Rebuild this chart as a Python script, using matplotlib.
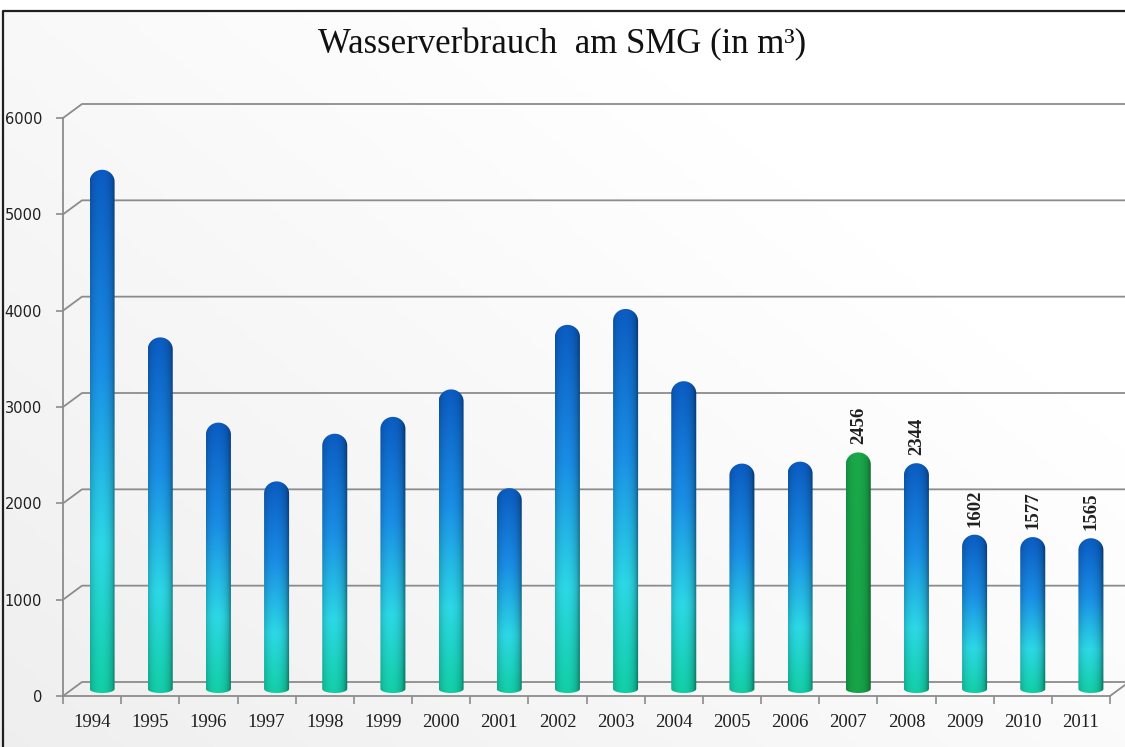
import numpy as np
import matplotlib.pyplot as plt
from matplotlib.path import Path
from matplotlib.patches import PathPatch, Rectangle
from matplotlib.colors import LinearSegmentedColormap

years = ['1994', '1995', '1996', '1997', '1998', '1999', '2000', '2001', '2002',
         '2003', '2004', '2005', '2006', '2007', '2008', '2009', '2010', '2011']
verbrauch = [5390, 3650, 2765, 2155, 2650, 2825, 3110, 2085, 3780,
             3945, 3195, 2340, 2360, 2456, 2344, 1602, 1577, 1565]
labelled = ['2007', '2008', '2009', '2010', '2011']
highlight = '2007'
yticks = [0, 1000, 2000, 3000, 4000, 5000, 6000]

W, H = 1125, 747
fig = plt.figure(figsize=(W / 100, H / 100), dpi=100)

# background: light gray gradient with white top strip and frame
bg = fig.add_axes([0, 0, 1, 1], zorder=-10)
yy, xx = np.mgrid[0:1:200j, 0:1:300j]
g = 0.92 + 0.08 * np.clip(0.6 * xx + 0.5 * (1 - yy) + 0.2, 0, 1)
bg.imshow(np.dstack([g, g, g]), extent=(0, 1, 0, 1), aspect='auto', origin='upper')
bg.add_patch(Rectangle((0, 1 - 10 / H), 1, 10 / H, color='white'))
bg.plot([2.5 / W, 2.5 / W, 1.0], [0, 1 - 10.5 / H, 1 - 10.5 / H], color='#202020', lw=1.6)
bg.set_xlim(0, 1)
bg.set_ylim(0, 1)
bg.axis('off')

x0, x1 = 63, 1110
yb, yt = 696, 118
ax = fig.add_axes([x0 / W, 1 - yb / H, (x1 - x0) / W, (yb - yt) / H])
ax.patch.set_alpha(0)
n = len(years)
ax.set_xlim(-0.5, n - 0.5)
ax.set_ylim(0, 6000)
px_x = (x1 - x0) / n
px_y = (yb - yt) / 6000
dx = 19 / px_x
dy = 14 / px_y

grid_c = '#8c8c8c'
xr = -0.5 + (W - x0) / px_x
for v in yticks:
    ax.plot([-0.5, -0.5 + dx, xr], [v, v + dy, v + dy], color=grid_c, lw=1.3,
            clip_on=False, zorder=1)
ax.plot([n - 0.5, n - 0.5 + dx], [0, dy], color=grid_c, lw=1.3, clip_on=False, zorder=1)

for s in ['top', 'right']:
    ax.spines[s].set_visible(False)
for s in ['left', 'bottom']:
    ax.spines[s].set_color(grid_c)
    ax.spines[s].set_linewidth(1.3)

ax.set_yticks(yticks)
ax.set_yticklabels([str(v) for v in yticks], fontsize=10.5, color='#202020')
ax.tick_params(axis='y', length=5, color=grid_c, width=1.2, pad=10)
ax.set_xticks(np.arange(n + 1) - 0.5)
ax.set_xticklabels([])
ax.tick_params(axis='x', which='major', length=6, color=grid_c, width=1.2)
ax.set_xticks(np.arange(n), minor=True)
ax.set_xticklabels(years, minor=True, fontsize=13.5, family='Liberation Serif', color='#202020')
ax.tick_params(axis='x', which='minor', length=0, pad=13)

blue = LinearSegmentedColormap.from_list('b', [(0, '#12cfa6'), (0.28, '#2cd8e6'),
                                               (0.62, '#1a8ee6'), (1, '#0b5cc2')])
green = LinearSegmentedColormap.from_list('g', [(0, '#17a447'), (1, '#1aa84a')])

# cylinder shading across the bar
u = np.linspace(-1, 1, 60)
shade = 0.62 + 0.38 * np.sqrt(np.clip(1 - (u + 0.15) ** 2, 0, 1))
shade = shade[None, :, None]

bw = 0.43
bx = 10 / px_x
lift = 7 / px_y
cap = 12 / px_y
foot = 4 / px_y
for i, (yr, val) in enumerate(zip(years, verbrauch)):
    c = i + bx
    l, r = c - bw / 2, c + bw / 2
    top = val + lift
    t = np.linspace(0, np.pi, 40)
    upper = list(zip(c + (bw / 2) * np.cos(t), top - cap + cap * np.sin(t)))
    bt = np.linspace(np.pi, 2 * np.pi, 20)
    lower = list(zip(c + (bw / 2) * np.cos(bt), lift + foot * np.sin(bt)))
    verts = upper + lower
    clip = PathPatch(Path(verts + [verts[0]], closed=True), transform=ax.transData,
                     facecolor='none', edgecolor='none')
    ax.add_patch(clip)
    cmap = green if yr == highlight else blue
    vert = cmap(np.linspace(1, 0, 200))[:, None, :3]
    img = np.clip(vert * shade, 0, 1)
    im = ax.imshow(img, extent=(l, r, lift - foot, top), aspect='auto',
                   origin='upper', zorder=3, interpolation='bilinear')
    im.set_clip_path(clip)
    if yr in labelled:
        ax.text(c, top + 8 / px_y, str(val), rotation=90, ha='center', va='bottom',
                fontsize=13.5, family='Liberation Serif', fontweight='bold', color='#202020')

ax.set_xlim(-0.5, n - 0.5)
ax.set_ylim(0, 6000)

fig.text(0.5, 1 - 45 / H, 'Wasserverbrauch  am SMG (in m³)', ha='center', va='center',
         fontsize=25, family='Liberation Serif', color='#111111')

fig.savefig('out.png', dpi=100)
